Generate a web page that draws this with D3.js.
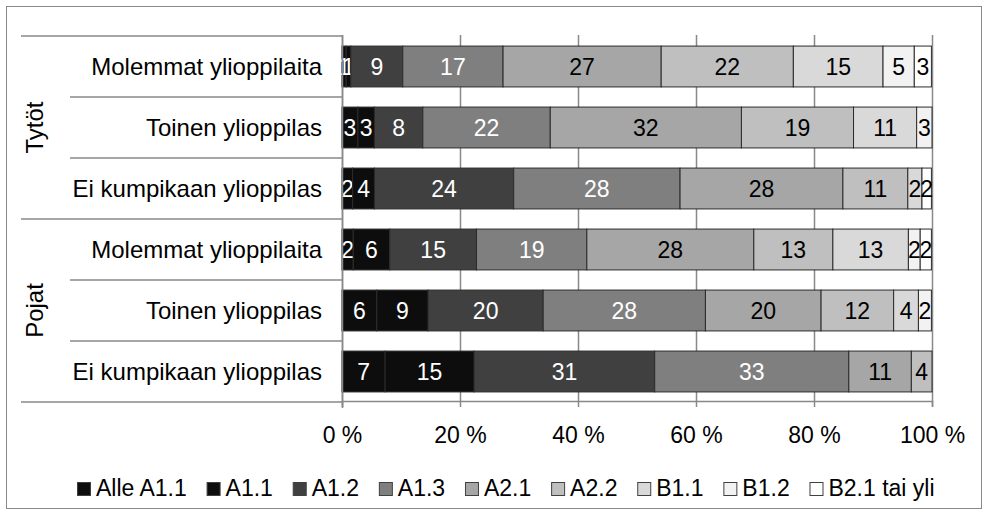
<!DOCTYPE html>
<html>
<head>
<meta charset="utf-8">
<script src="https://cdn.jsdelivr.net/npm/d3@7"></script>
<style>
  body { margin: 0; background: #fff; }
  svg text { font-family: "Liberation Sans", Arial, sans-serif; }
</style>
</head>
<body>
<svg id="chart" width="989" height="515"></svg>
<script>
// level names (legend order = stack order)
const levels = ["Alle A1.1", "A1.1", "A1.2", "A1.3", "A2.1", "A2.2", "B1.1", "B1.2", "B2.1 tai yli"];
const levelColors = ["#0d0d0d", "#0d0d0d", "#404040", "#7f7f7f", "#a6a6a6", "#bfbfbf", "#d9d9d9", "#f2f2f2", "#ffffff"];

const groupLabels = ["Tytöt", "Pojat"];
const rowLabels = ["Molemmat ylioppilaita", "Toinen ylioppilas", "Ei kumpikaan ylioppilas"];

// shares in %, one value per row (Tytöt x3, Pojat x3)
const alleA11 = [0.7, 2.7, 1.8, 1.9, 5.9, 7.3];
const a11 = [0.8, 2.8, 3.7, 6.2, 8.7, 15.1];
const a12 = [8.8, 8.2, 23.6, 14.7, 19.5, 30.6];
const a13 = [17.0, 21.6, 28.2, 18.7, 27.5, 32.9];
const a21 = [26.8, 32.4, 27.6, 28.3, 19.6, 10.6];
const a22 = [22.4, 19.0, 11.0, 13.4, 12.3, 3.5];
const b11 = [15.2, 10.7, 2.4, 12.8, 4.2, 0];
const b12 = [5.3, 2.6, 0, 2.0, 2.2, 0];
const b21 = [2.9, 0, 1.6, 1.9, 0, 0];

const tickValues = [0, 20, 40, 60, 80, 100];

const series = [alleA11, a11, a12, a13, a21, a22, b11, b12, b21];

let rows = [];
groupLabels.forEach((g, gi) => {
  rowLabels.forEach((r, ri) => {
    let row = {id: gi * 3 + ri, group: g, label: r};
    levels.forEach((l, li) => { row[l] = series[li][gi * 3 + ri]; });
    rows.push(row);
  });
});

const svg = d3.select("#chart");
const fontSize = 23;
const lineColor = "#898989";

svg.append("rect")
  .attr("x", 6.5).attr("y", 6.5)
  .attr("width", 975).attr("height", 502)
  .attr("fill", "#fff").attr("stroke", lineColor);

const x = d3.scaleLinear().domain([0, 100]).range([342, 932]);
const y = d3.scaleBand()
  .domain(rows.map(d => d.id))
  .range([36, 402])
  .paddingInner(0.33)
  .paddingOuter(0.165);

const half = (y.step() - y.bandwidth()) / 2;
const rowTop = id => y(id) - half;

// gridlines
svg.append("g").selectAll("line").data(tickValues).enter().append("line")
  .attr("x1", d => Math.round(x(d)) + 0.5).attr("x2", d => Math.round(x(d)) + 0.5)
  .attr("y1", 35).attr("y2", 402)
  .attr("stroke", lineColor).attr("stroke-width", 1.5);

// x axis
const xAxis = d3.axisBottom(x)
  .tickValues(tickValues)
  .tickFormat(d => d + " %")
  .tickSize(6)
  .tickPadding(20);
const gx = svg.append("g").attr("transform", "translate(0,401)").call(xAxis);
gx.select(".domain").attr("stroke", lineColor).attr("stroke-width", 1.5);
gx.selectAll(".tick line").attr("stroke", lineColor).attr("stroke-width", 1.5);
gx.selectAll(".tick text")
  .attr("fill", "#000")
  .style("font-size", fontSize + "px")
  .style("font-family", "\"Liberation Sans\", Arial, sans-serif");

// stacked bars
const stack = d3.stack().keys(levels);
const stacked = stack(rows);

const layer = svg.append("g").selectAll("g").data(stacked).enter().append("g")
  .attr("fill", (d, i) => levelColors[i]);

layer.selectAll("rect").data(d => d.filter(s => s[1] - s[0] > 0)).enter().append("rect")
  .attr("x", d => x(d[0]))
  .attr("y", d => y(d.data.id))
  .attr("width", d => x(d[1]) - x(d[0]))
  .attr("height", y.bandwidth())
  .attr("stroke", "#2b2b2b")
  .attr("stroke-width", 1);

layer.each(function (s, li) {
  d3.select(this).selectAll("text").data(s.filter(d => d[1] - d[0] > 0)).enter().append("text")
    .attr("x", d => x((d[0] + d[1]) / 2))
    .attr("y", d => y(d.data.id) + y.bandwidth() / 2)
    .attr("dy", "0.36em")
    .attr("text-anchor", "middle")
    .attr("fill", li < 4 ? "#fff" : "#000")
    .style("font-size", fontSize + "px")
    .text(d => Math.round(d[1] - d[0]));
});

// category axis
const cat = svg.append("g");
cat.append("line")
  .attr("x1", 342.5).attr("x2", 342.5)
  .attr("y1", 35).attr("y2", 408)
  .attr("stroke", lineColor).attr("stroke-width", 1.5);

rows.forEach(r => {
  let top = rowTop(r.id);
  let outer = r.id % 3 === 0;
  cat.append("line")
    .attr("x1", outer ? 21 : 70).attr("x2", 342)
    .attr("y1", top).attr("y2", top)
    .attr("stroke", lineColor).attr("stroke-width", 1.5);
  cat.append("text")
    .attr("x", 322)
    .attr("y", y(r.id) + y.bandwidth() / 2)
    .attr("dy", "0.36em")
    .attr("text-anchor", "end")
    .style("font-size", "24px")
    .text(r.label);
});
cat.append("line")
  .attr("x1", 21).attr("x2", 342)
  .attr("y1", 402).attr("y2", 402)
  .attr("stroke", lineColor).attr("stroke-width", 1.5);

groupLabels.forEach((g, gi) => {
  let y0 = rowTop(gi * 3), y1 = rowTop(gi * 3 + 2) + y.step();
  cat.append("text")
    .attr("transform", `translate(43,${(y0 + y1) / 2}) rotate(-90)`)
    .attr("text-anchor", "middle")
    .style("font-size", "24px")
    .text(g);
});

// legend
const legend = svg.append("g").attr("transform", "translate(77,496)");
let lx = 0;
levels.forEach((l, i) => {
  legend.append("rect")
    .attr("x", lx + 0.5).attr("y", -13.5)
    .attr("width", 13).attr("height", 13)
    .attr("fill", levelColors[i])
    .attr("stroke", "#404040").attr("stroke-width", 1);
  let t = legend.append("text")
    .attr("x", lx + 19).attr("y", 0)
    .style("font-size", fontSize + "px")
    .text(l);
  lx += 19 + t.node().getComputedTextLength() + 19.8;
});
</script>
</body>
</html>
